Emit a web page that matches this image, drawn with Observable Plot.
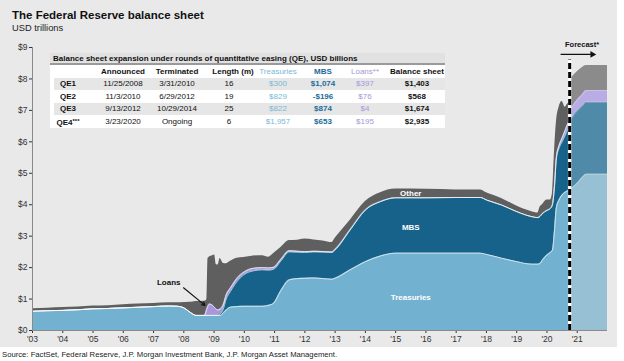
<!DOCTYPE html>
<html>
<head>
<meta charset="utf-8">
<script src="https://cdn.jsdelivr.net/npm/d3@7"></script>
<script src="https://cdn.jsdelivr.net/npm/@observablehq/plot@0.6"></script>
<style>
  html, body { margin: 0; padding: 0; background: #fff; }
  #wrap { position: relative; width: 624px; height: 361px; overflow: hidden; font-family: Arial, "Liberation Sans", sans-serif; }
  #panel { position: absolute; left: 0; top: 0; width: 617px; height: 347px; background: #e9e9e9; }
  #title { position: absolute; left: 12px; top: 10px; font-size: 11.5px; font-weight: bold; color: #111; line-height: 1; white-space: nowrap; }
  #subtitle { position: absolute; left: 12px; top: 24px; font-size: 9.3px; color: #222; line-height: 1; white-space: nowrap; }
  #chart { position: absolute; left: 0; top: 35px; }
  #source { position: absolute; left: 2px; top: 351px; font-size: 7.7px; color: #222; line-height: 1; white-space: nowrap; }
  #table { position: absolute; left: 50px; top: 53px; width: 395px; height: 75px; background: #fff; font-size: 8px; color: #111; }
  .row { position: absolute; left: 0; width: 395px; }
  .cell { position: absolute; transform: translate(-50%, -50%); white-space: nowrap; line-height: 1; }
</style>
</head>
<body>
<div id="wrap">
  <div id="panel"></div>
  <div id="title">The Federal Reserve balance sheet</div>
  <div id="subtitle">USD trillions</div>
  <div id="chart"></div>
  <div id="table"></div>
  <div id="source">Source: FactSet, Federal Reserve, J.P. Morgan Investment Bank, J.P. Morgan Asset Management.</div>
</div>
<script>
// ---------------- DATA (USD trillions) ----------------
const years = [2003.0, 2003.5, 2004.0, 2004.5, 2005.0, 2005.5, 2006.0, 2006.5, 2007.0, 2007.5, 2007.8,
  2008.0, 2008.15, 2008.3, 2008.4, 2008.68, 2008.76, 2008.8, 2008.85, 2008.95, 2009.02, 2009.07, 2009.13,
  2009.2, 2009.3, 2009.4, 2009.54, 2009.76, 2009.98, 2010.31, 2010.6, 2010.8, 2010.97, 2011.19, 2011.49,
  2011.75, 2011.99, 2012.3, 2012.6, 2012.9, 2013.0, 2013.5, 2014.0, 2014.5, 2015.0, 2016.0, 2017.0, 2017.8,
  2018.0, 2018.5, 2019.0, 2019.5, 2019.7, 2019.77, 2019.85, 2020.0, 2020.11, 2020.18, 2020.25, 2020.31,
  2020.4, 2020.5, 2020.6, 2020.68, 2020.75];
const treasuries = [0.61, 0.63, 0.64, 0.66, 0.69, 0.70, 0.72, 0.74, 0.76, 0.78, 0.77,
  0.72, 0.62, 0.52, 0.48, 0.48, 0.48, 0.48, 0.48, 0.48, 0.48, 0.48, 0.48,
  0.48, 0.55, 0.65, 0.74, 0.76, 0.77, 0.77, 0.77, 0.80, 0.87, 1.24, 1.61,
  1.65, 1.66, 1.67, 1.65, 1.63, 1.66, 1.93, 2.19, 2.37, 2.46, 2.46, 2.46, 2.46,
  2.42, 2.30, 2.19, 2.11, 2.11, 2.13, 2.24, 2.40, 2.48, 2.55, 3.20, 3.90,
  4.15, 4.31, 4.40, 4.44, 4.47];
const mbs = [0, 0, 0, 0, 0, 0, 0, 0, 0, 0, 0,
  0, 0, 0, 0, 0, 0, 0, 0, 0, 0, 0, 0,
  0.05, 0.12, 0.35, 0.50, 0.80, 1.00, 1.13, 1.16, 1.12, 1.08, 0.95, 0.89,
  0.84, 0.82, 0.83, 0.84, 0.85, 0.90, 1.27, 1.64, 1.73, 1.76, 1.76, 1.77, 1.77,
  1.73, 1.69, 1.59, 1.51, 1.48, 1.50, 1.48, 1.42, 1.40, 1.45, 1.40, 1.55,
  1.65, 1.69, 1.80, 1.94, 2.00];
const loans = [0, 0, 0, 0, 0, 0, 0, 0, 0, 0, 0,
  0, 0, 0, 0, 0, 0.20, 0.30, 0.36, 0.32, 0.25, 0.20, 0.17,
  0.15, 0.14, 0.13, 0.11, 0.10, 0.08, 0.08, 0.07, 0.07, 0.06, 0.05, 0.04,
  0.03, 0.03, 0.02, 0.02, 0.02, 0.02, 0.01, 0.01, 0, 0, 0, 0, 0,
  0, 0, 0, 0, 0, 0, 0, 0, 0, 0, 0.02, 0.05,
  0.08, 0.12, 0.16, 0.18, 0.20];
const other = [0.08, 0.08, 0.09, 0.09, 0.09, 0.09, 0.10, 0.10, 0.10, 0.10, 0.11,
  0.17, 0.28, 0.39, 0.44, 0.45, 0.30, 1.50, 1.50, 1.58, 1.67, 1.42, 1.43,
  1.61, 1.33, 0.99, 0.85, 0.64, 0.47, 0.39, 0.38, 0.34, 0.44, 0.38, 0.32,
  0.35, 0.40, 0.36, 0.34, 0.30, 0.35, 0.30, 0.26, 0.28, 0.28, 0.27, 0.24, 0.24,
  0.23, 0.21, 0.18, 0.16, 0.15, 0.29, 0.28, 0.33, 0.27, 0.35, 1.08, 1.10,
  1.22, 1.16, 0.74, 0.64, 0.58];

// Forecast segment
const forecastYears      = [2020.75, 2020.85, 2021.0, 2021.15, 2021.3, 2021.5, 2022.0];
const forecastTreasuries = [4.47, 4.55, 4.68, 4.85, 4.97, 4.97, 4.97];
const forecastMbs        = [2.16, 2.25, 2.30, 2.27, 2.29, 2.29, 2.29];
const forecastLoans      = [0.32, 0.33, 0.35, 0.36, 0.37, 0.37, 0.37];
const forecastOther      = [1.00, 0.95, 0.90, 0.87, 0.80, 0.80, 0.80];
const forecastStart = 2020.75;

const seriesNames = ["Treasuries", "MBS", "Loans", "Other"];
const xTickYears = [2003, 2004, 2005, 2006, 2007, 2008, 2009, 2010, 2011, 2012, 2013, 2014, 2015, 2016, 2017, 2018, 2019, 2020, 2021];
const yTickValues = [0, 1, 2, 3, 4, 5, 6, 7, 8, 9];

// Annotations (data coordinates)
const areaLabels = [
  {text: "Other", year: 2015.5, value: 4.37},
  {text: "MBS", year: 2015.5, value: 3.29},
  {text: "Treasuries", year: 2015.5, value: 1.05}
];
const loansNote = {text: "Loans", year: 2007.5, value: 1.53, x1: 2007.99, y1: 1.36, x2: 2008.7, y2: 0.8};
const forecastNote = {text: "Forecast*", year: 2021.16, value: 9.1, x1: 2020.45, x2: 2021.5, y: 8.78, lineTop: 8.6};

// Table data (USD billions)
const qeRounds = ["QE1", "QE2", "QE3", "QE4"];
const qeSuffix = ["", "", "", "***"];
const announced = ["11/25/2008", "11/3/2010", "9/13/2012", "3/23/2020"];
const terminated = ["3/31/2010", "6/29/2012", "10/29/2014", "Ongoing"];
const lengthMonths = [16, 19, 25, 6];
const qeTreasuries = [300, 829, 822, 1957];
const qeMbs = [1074, -196, 874, 653];
const qeLoans = [397, 76, 4, 195];
const qeBalance = [1403, 568, 1674, 2935];

// ---------------- STYLE ----------------
const FONT = 'Arial, "Liberation Sans", sans-serif';
const actualColors = ["#72b1cf", "#17628b", "#a898db", "#5f5f5f"];
const forecastColors = ["#97c0d5", "#4f8aa8", "#b9abe3", "#8b8b8b"];
const tsyText = "#79b8d8", mbsText = "#1d6b97", loanText = "#a597d9";
const CURVE = "monotone-x";

// ---------------- BUILD STACKS ----------------
function stack(xs, cols) {
  return xs.map((x, i) => {
    let acc = 0;
    const base = [], top = [];
    cols.forEach(c => { base.push(acc); acc += c[i]; top.push(acc); });
    return {year: x, base, top};
  });
}
const actualRows = stack(years, [treasuries, mbs, loans, other]);
const forecastRows = stack(forecastYears, [forecastTreasuries, forecastMbs, forecastLoans, forecastOther]);

const marks = [];
seriesNames.forEach((name, i) => {
  marks.push(Plot.areaY(actualRows, {x: "year", y1: d => d.base[i], y2: d => d.top[i], fill: actualColors[i], curve: CURVE}));
  marks.push(Plot.areaY(forecastRows, {x: "year", y1: d => d.base[i], y2: d => d.top[i], fill: forecastColors[i], curve: CURVE}));
});
[0, 1, 2].forEach(i => {
  marks.push(Plot.lineY(actualRows, {x: "year", y: d => d.top[i], stroke: "#fff", strokeWidth: 0.8, strokeOpacity: 0.85, curve: CURVE}));
  marks.push(Plot.lineY(forecastRows, {x: "year", y: d => d.top[i], stroke: "#fff", strokeWidth: 0.7, strokeOpacity: 0.5, strokeDasharray: "1,1", curve: CURVE}));
});
marks.push(Plot.ruleX([2003], {stroke: "#8a8a8a", strokeWidth: 1}));
marks.push(Plot.ruleY([0], {stroke: "#8a8a8a", strokeWidth: 1}));

// Forecast divider
marks.push(Plot.ruleX([forecastStart], {y1: 0, y2: forecastNote.lineTop, stroke: "#fff", strokeWidth: 3.5}));
marks.push(Plot.ruleX([forecastStart], {y1: 0, y2: forecastNote.lineTop, stroke: "#000", strokeWidth: 3, strokeDasharray: "6,3"}));
marks.push(Plot.text([forecastNote], {x: "year", y: "value", text: "text", fontSize: 7.5, fontWeight: "bold", fill: "#111"}));
marks.push(Plot.link([forecastNote], {x1: "x1", x2: "x2", y1: "y", y2: "y", stroke: "#111", strokeWidth: 1.2}));
marks.push(Plot.dot([forecastNote], {x: "x2", y: "y", symbol: "triangle2", rotate: 90, r: 3.2, fill: "#111", stroke: "none"}));

// Area labels
marks.push(Plot.text(areaLabels, {x: "year", y: "value", text: "text", fill: "#fff", fontSize: 8, fontWeight: "bold"}));

// Loans annotation
marks.push(Plot.text([loansNote], {x: "year", y: "value", text: "text", fill: "#111", fontSize: 8, fontWeight: "bold"}));
marks.push(Plot.arrow([loansNote], {x1: "x1", y1: "y1", x2: "x2", y2: "y2", stroke: "#111", strokeWidth: 1.1, headLength: 5}));

const chart = Plot.plot({
  width: 624, height: 310,
  marginLeft: 32, marginRight: 17, marginTop: 12, marginBottom: 15,
  style: {background: "transparent", fontFamily: FONT, fontSize: "8.5px", color: "#333", overflow: "visible"},
  x: {domain: [2003, 2022], ticks: xTickYears, tickFormat: d => "'" + String(d).slice(2), tickSize: 3, tickPadding: 2, label: null},
  y: {domain: [0, 9], ticks: yTickValues, tickFormat: d => "$" + d, tickSize: 3, tickPadding: 2, label: null},
  marks
});
document.getElementById("chart").appendChild(chart);

// ---------------- TABLE ----------------
const fmt = v => (v < 0 ? "-$" : "$") + d3.format(",")(Math.abs(v));
const colX = [18, 73, 127, 179, 228, 273, 315, 367]; // centers relative to table
const tbl = document.getElementById("table");
function addRow(top, height, bg) {
  const r = document.createElement("div");
  r.className = "row";
  r.style.top = top + "px"; r.style.height = height + "px";
  if (bg) r.style.background = bg;
  tbl.appendChild(r);
  return r;
}
function addCell(row, x, y, html, style) {
  const c = document.createElement("div");
  c.className = "cell";
  c.style.left = x + "px"; c.style.top = y + "px";
  c.innerHTML = html;
  Object.assign(c.style, style || {});
  row.appendChild(c);
}
const titleRow = addRow(0, 10, "#e1e1e1");
const tt = document.createElement("div");
tt.textContent = "Balance sheet expansion under rounds of quantitative easing (QE), USD billions";
Object.assign(tt.style, {position: "absolute", left: "3px", top: "1px", fontWeight: "bold", fontSize: "8px", lineHeight: "9px", whiteSpace: "nowrap"});
titleRow.appendChild(tt);
addRow(10, 1.5, "#9a9a9a");

const headerRow = addRow(11.5, 13, null);
const headers = ["", "Announced", "Terminated", "Length (m)", "Treasuries", "MBS", "Loans**", "Balance sheet"];
const headerStyles = [{}, {fontWeight: "bold"}, {fontWeight: "bold"}, {fontWeight: "bold"},
  {color: tsyText}, {color: mbsText, fontWeight: "bold"}, {color: loanText}, {fontWeight: "bold"}];
headers.forEach((h, j) => addCell(headerRow, colX[j] + (j === 3 ? 4 : 0), 7, h, headerStyles[j]));

qeRounds.forEach((q, i) => {
  const row = addRow(24.5 + i * 12.6, 12.6, i % 2 === 0 ? "#e6e6e6" : null);
  if (i % 2 === 0) { row.style.left = "4px"; row.style.width = "391px"; }
  const off = i % 2 === 0 ? -4 : 0;
  const cy = 6.5;
  addCell(row, colX[0] + off, cy, q + (qeSuffix[i] ? '<span style="font-size:6px;vertical-align:2px">' + qeSuffix[i] + '</span>' : ""), {fontWeight: "bold"});
  addCell(row, colX[1] + off, cy, announced[i]);
  addCell(row, colX[2] + off, cy, terminated[i]);
  addCell(row, colX[3] + off, cy, String(lengthMonths[i]));
  addCell(row, colX[4] + off, cy, fmt(qeTreasuries[i]), {color: tsyText});
  addCell(row, colX[5] + off, cy, fmt(qeMbs[i]), {color: mbsText, fontWeight: "bold"});
  addCell(row, colX[6] + off, cy, fmt(qeLoans[i]), {color: loanText});
  addCell(row, colX[7] + off, cy, fmt(qeBalance[i]), {fontWeight: "bold"});
});
</script>
</body>
</html>
